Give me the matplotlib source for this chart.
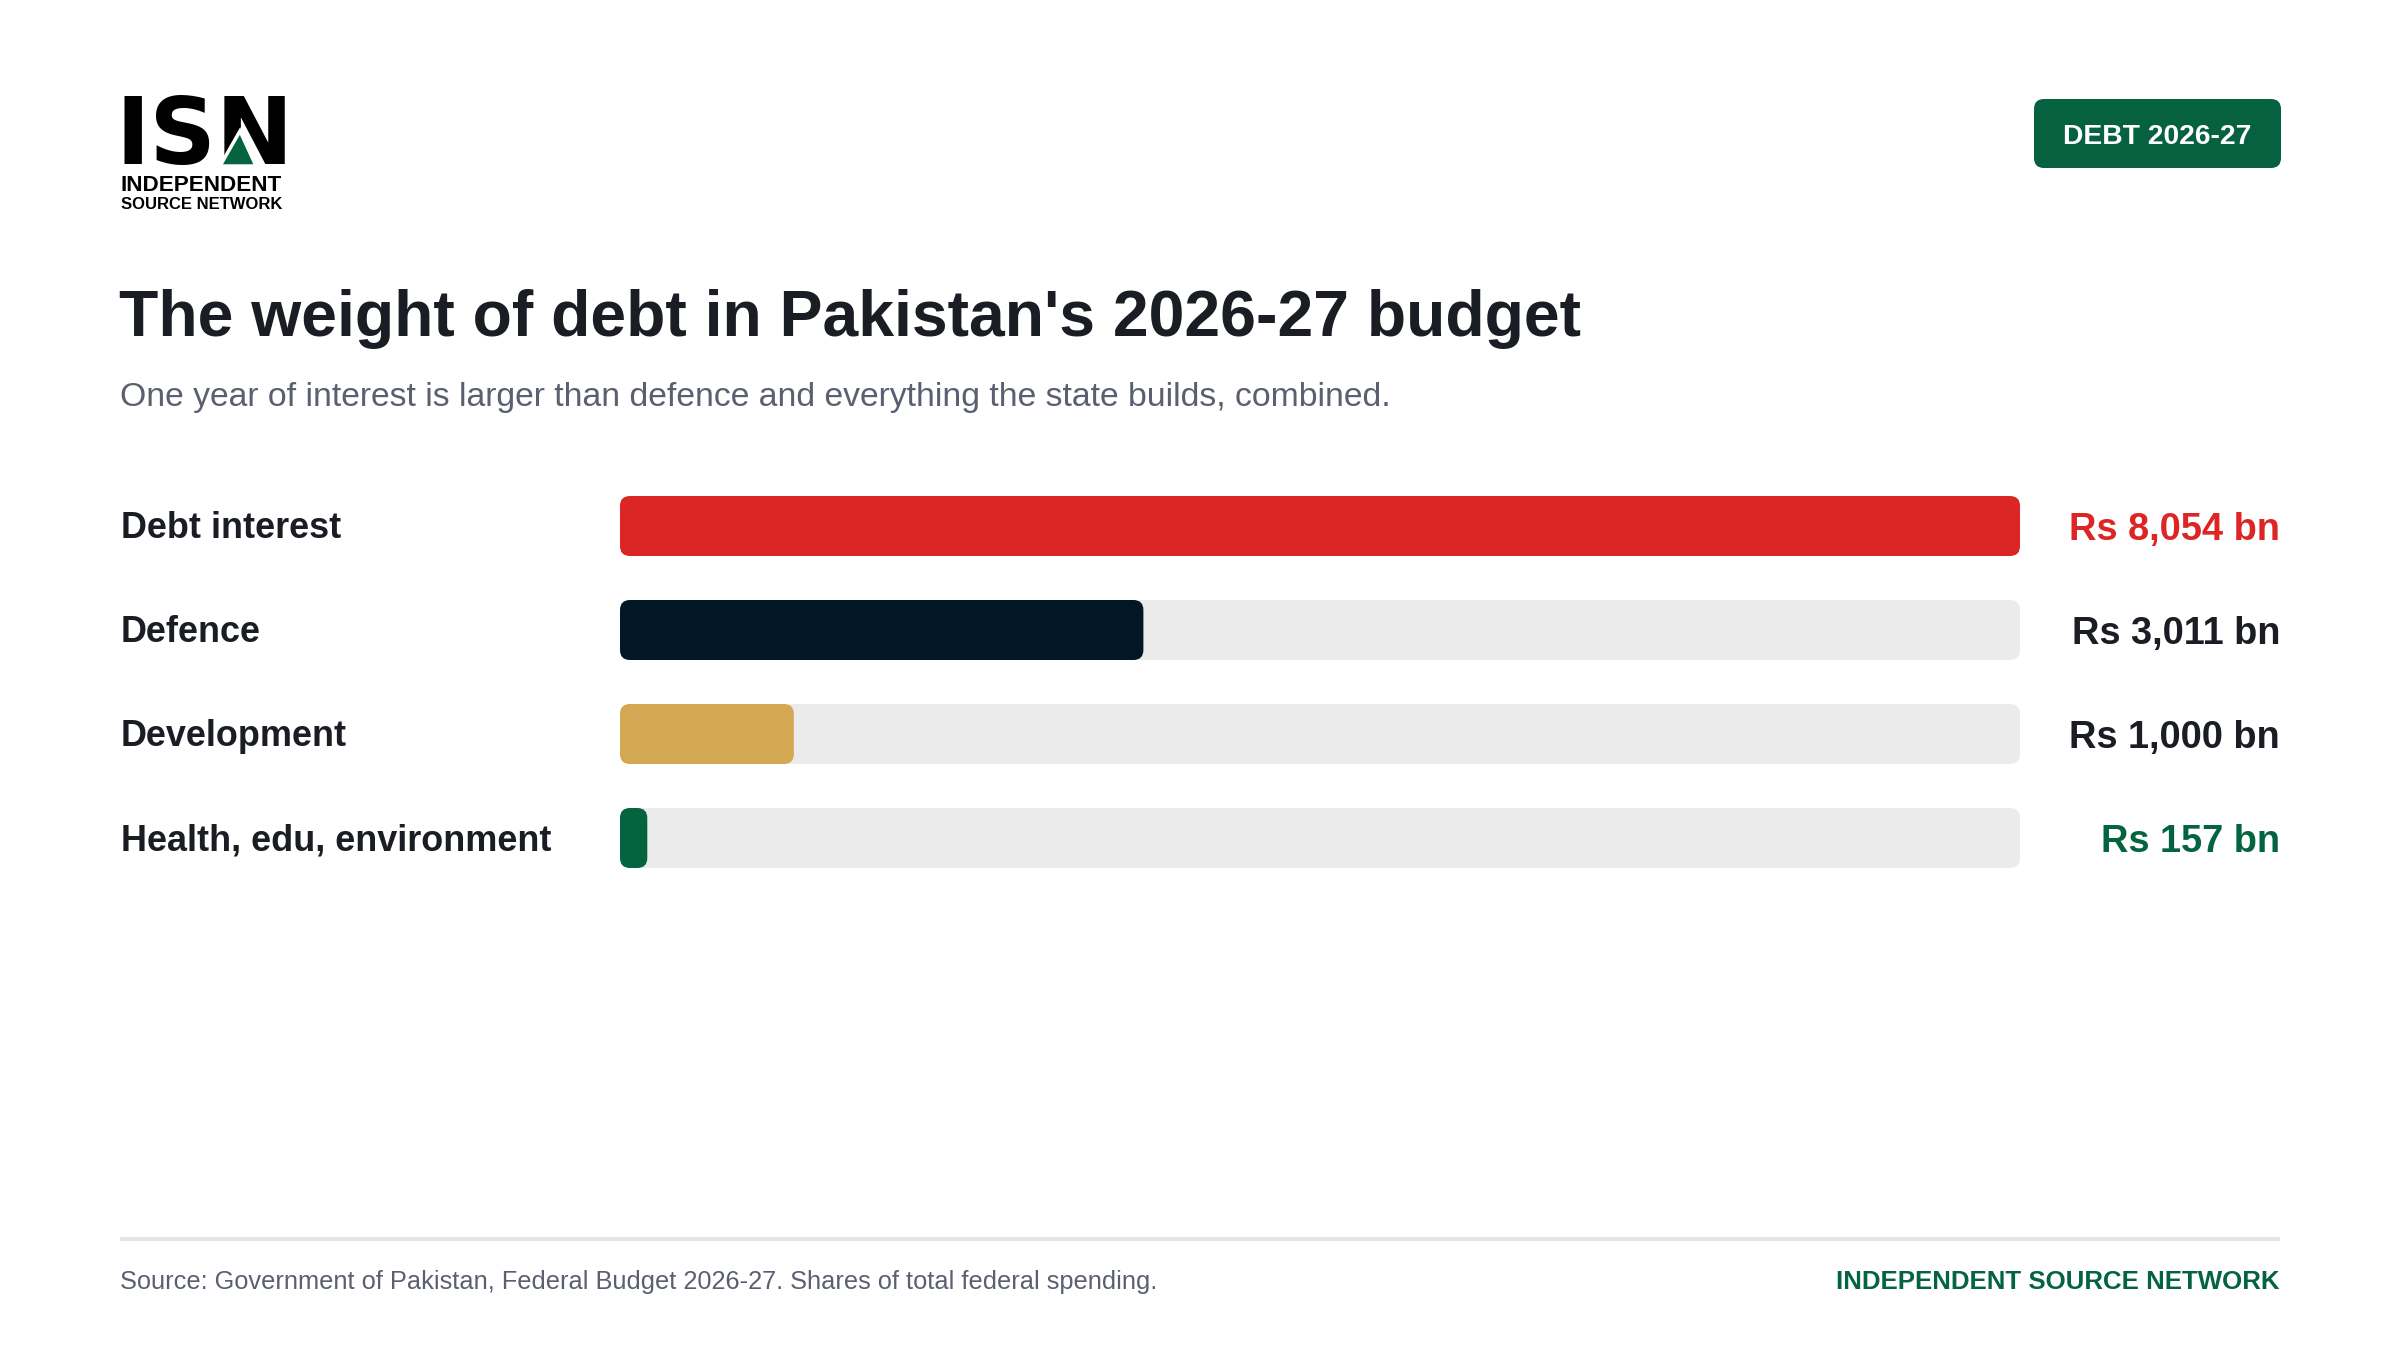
import matplotlib
matplotlib.use("Agg")
import matplotlib.pyplot as plt
from matplotlib.patches import FancyBboxPatch, Polygon
from matplotlib.transforms import blended_transform_factory

plt.rcParams['font.family'] = ['Liberation Sans', 'DejaVu Sans']

# ---------------------------------------------------------------
# data
# ---------------------------------------------------------------
categorias = ["Debt interest", "Defence", "Development", "Health, edu, environment"]
valores = [8054, 3011, 1000, 157]
etiquetas = ["Rs 8,054 bn", "Rs 3,011 bn", "Rs 1,000 bn", "Rs 157 bn"]
colores_barra = ["#dc2626", "#021726", "#d4a853", "#056440"]
colores_texto = ["#dc2626", "#1b1d24", "#1b1d24", "#056440"]

titulo = "The weight of debt in Pakistan's 2026-27 budget"
subtitulo = "One year of interest is larger than defence and everything the state builds, combined."
fuente = "Source: Government of Pakistan, Federal Budget 2026-27. Shares of total federal spending."
marca = "INDEPENDENT SOURCE NETWORK"
insignia = "DEBT 2026-27"

OSCURO = "#1b1d24"
GRIS = "#5b6070"
VERDE = "#056440"
PISTA = "#ebebeb"

W, H = 2400, 1350
fig = plt.figure(figsize=(24, 13.5), dpi=100)
fig.patch.set_facecolor("white")

# pixel overlay for header / footer
bg = fig.add_axes([0, 0, 1, 1])
bg.set_xlim(0, W)
bg.set_ylim(H, 0)
bg.axis("off")

# --- logo ---
bg.text(115, 164, "ISN", fontsize=66.5, fontweight="bold", family="DejaVu Sans",
        color="black", va="baseline", ha="left")
bg.add_patch(Polygon([(220, 166), (240, 131), (256, 166)], closed=True,
                     facecolor=VERDE, edgecolor="white", linewidth=2.5, zorder=3))
bg.text(121, 191, "INDEPENDENT", fontsize=16.2, fontweight="bold", color="black", va="baseline")
bg.text(121, 209, "SOURCE NETWORK", fontsize=12, fontweight="bold", color="black", va="baseline")

# --- badge ---
bg.add_patch(FancyBboxPatch((2034, 99), 247, 69, boxstyle="round,pad=0,rounding_size=10",
                            facecolor="#066140", edgecolor="none"))
bg.text(2157.5, 143.5, insignia, fontsize=20.3, fontweight="bold", color="white",
        ha="center", va="baseline")

# --- title / subtitle ---
bg.text(119, 336, titulo, fontsize=46.3, fontweight="bold", color=OSCURO, va="baseline")
bg.text(120, 406, subtitulo, fontsize=24.3, color=GRIS, va="baseline")

# --- footer ---
bg.plot([120, 2280], [1239, 1239], color="#e2e4e8", linewidth=2.9, solid_capstyle="butt")
bg.text(120, 1289, fuente, fontsize=18.3, color=GRIS, va="baseline")
bg.text(2280, 1289, marca, fontsize=18.6, fontweight="bold", color=VERDE,
        ha="right", va="baseline")

# ---------------------------------------------------------------
# bars
# ---------------------------------------------------------------
x0, x1 = 620, 2020          # track in pixels
paso = 104                  # pixels per row
y_top = 526 - paso / 2
y_bot = 838 + paso / 2
ax = fig.add_axes([x0 / W, 1 - y_bot / H, (x1 - x0) / W, (y_bot - y_top) / H])
maximo = max(valores)
ax.set_xlim(0, maximo)
ax.set_ylim(len(valores) - 0.5, -0.5)
ax.axis("off")

alto = 60 / paso
radio_px = 10
r_x = radio_px * maximo / (x1 - x0)
aspecto = (radio_px / paso) / r_x

for i, (v, c) in enumerate(zip(valores, colores_barra)):
    ax.add_patch(FancyBboxPatch((0, i - alto / 2), maximo, alto,
                                boxstyle=f"round,pad=0,rounding_size={r_x}",
                                mutation_aspect=aspecto, facecolor=PISTA, edgecolor="none"))
    ax.add_patch(FancyBboxPatch((0, i - alto / 2), v, alto,
                                boxstyle=f"round,pad=0,rounding_size={r_x}",
                                mutation_aspect=aspecto, facecolor=c, edgecolor="none"))

trans = blended_transform_factory(fig.transFigure, ax.transData)
for i, (cat, et, ct) in enumerate(zip(categorias, etiquetas, colores_texto)):
    ax.text(121 / W, i + 12.5 / paso, cat, transform=trans, fontsize=25.9,
            fontweight="bold", color=OSCURO, ha="left", va="baseline")
    ax.text(2280 / W, i + 13.6 / paso, et, transform=trans, fontsize=27.4,
            fontweight="bold", color=ct, ha="right", va="baseline")

fig.savefig("out.png", dpi=100, facecolor="white")
